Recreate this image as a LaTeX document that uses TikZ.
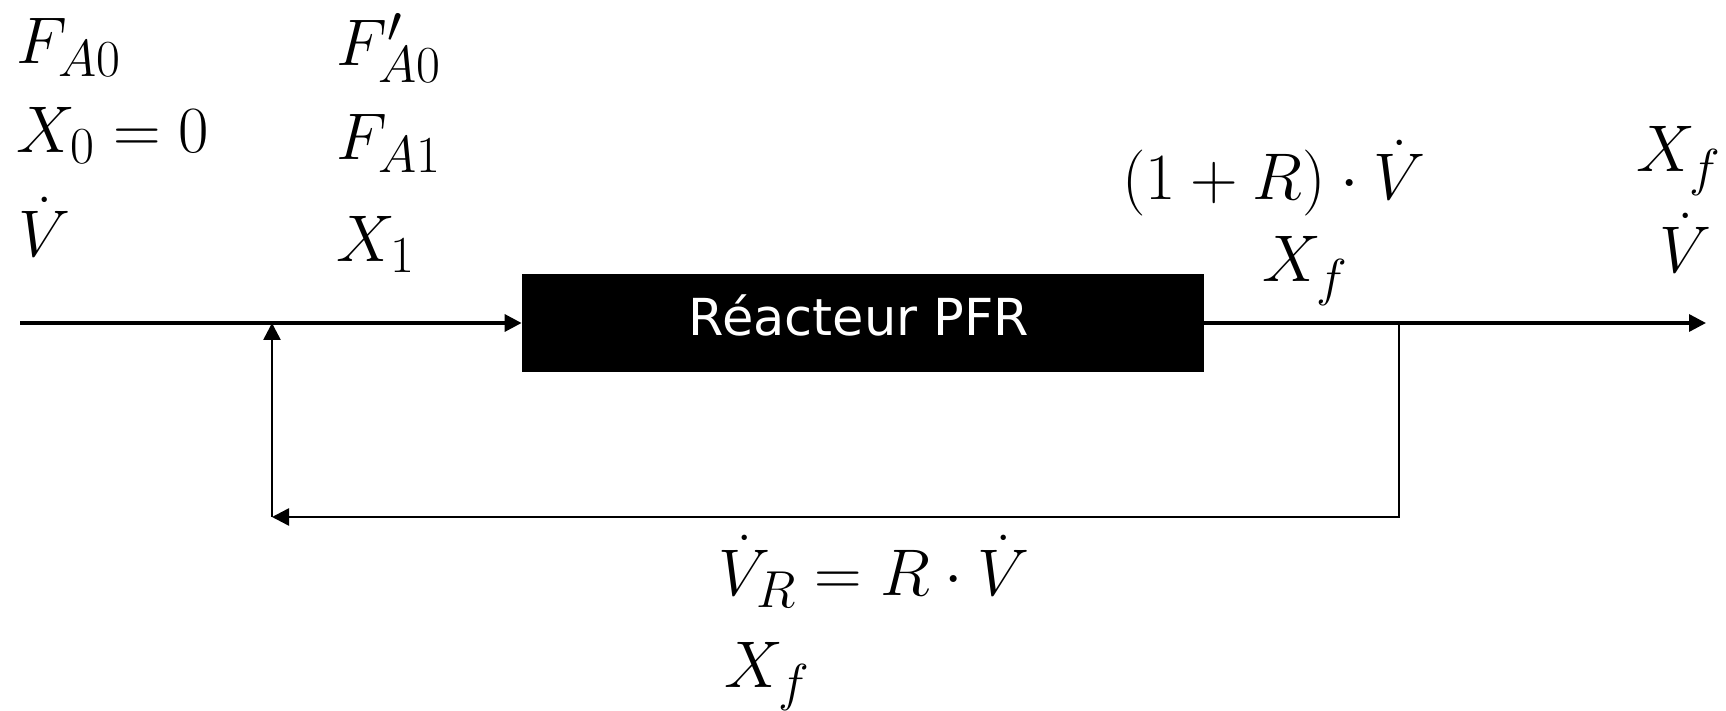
\RequirePackage{fix-cm}
\documentclass[tikz,border=0pt]{standalone}
\usepackage{fontspec}
\newfontfamily\dejavu{DejaVu Sans}
\DeclareMathSizes{33}{33}{26}{20}
\usetikzlibrary{arrows.meta}
\tikzset{
  flow/.style={line width=1.7pt, -{Triangle[length=8.5pt,width=8.5pt]}},
  recycarrow/.style={line width=1.3pt, -{Triangle[length=8.5pt,width=8.5pt]}},
  lbl/.style={inner sep=0pt, font=\fontsize{33}{40}\selectfont},
  reactorbox/.style={fill=black, draw=none, minimum width=341pt, minimum height=49pt,
    text=white, font=\dejavu\fontsize{25.5}{30}\selectfont, text height=18.5pt, text depth=6pt, inner sep=0pt}
}
\begin{document}
\begin{tikzpicture}[x=0.5pt,y=-0.5pt]
\useasboundingbox (0,0) rectangle (1726,711);
% reactor
\node[reactorbox] (reactor) at (863,323) {\hspace*{-4pt}Réacteur PFR};
% coordinates
\coordinate (in) at (20,323);
\coordinate (junction) at (272,323);
\coordinate (out) at (1706,323);
\coordinate (split) at (1399,323);
\coordinate (br) at (1399,517);
\coordinate (bl) at (272,517);
% connectors
\draw[flow] (in) -- (reactor.west);
\draw[flow] (reactor.east) -- (out);
\draw[recycarrow] (split) -- (br) -- (bl);
\draw[recycarrow] (bl) -- (junction);
% labels left
\node[lbl, anchor=base west] (fa0) at (16,64) {$F_{A0}$};
\node[lbl, anchor=base west] (x0) at (16,153) {$X_0 = 0$};
\node[lbl, anchor=base west] (v0) at (18,257) {$\dot V$};
% labels after mixing
\node[lbl, anchor=base west] (fa0p) at (336,66) {$F'_{A0}$};
\node[lbl, anchor=base west] (fa1) at (336,160) {$F_{A1}$};
\node[lbl, anchor=base west] (x1) at (336,262) {$X_1$};
% labels after reactor
\node[lbl, anchor=base west] (vtot) at (1122,200) {$(1+R)\cdot\dot V$};
\node[lbl, anchor=base west] (xfa) at (1262,282) {$X_f$};
% labels outlet
\node[lbl, anchor=base east] (xfo) at (1722,172) {$X_f$};
\node[lbl, anchor=base east] (vo) at (1712,273) {$\dot V$};
% labels recycle
\node[lbl, anchor=base west] (vr) at (718,595) {$\dot V_R = R\cdot\dot V$};
\node[lbl, anchor=base west] (xfr) at (724,687) {$X_f$};
\end{tikzpicture}
\end{document}
